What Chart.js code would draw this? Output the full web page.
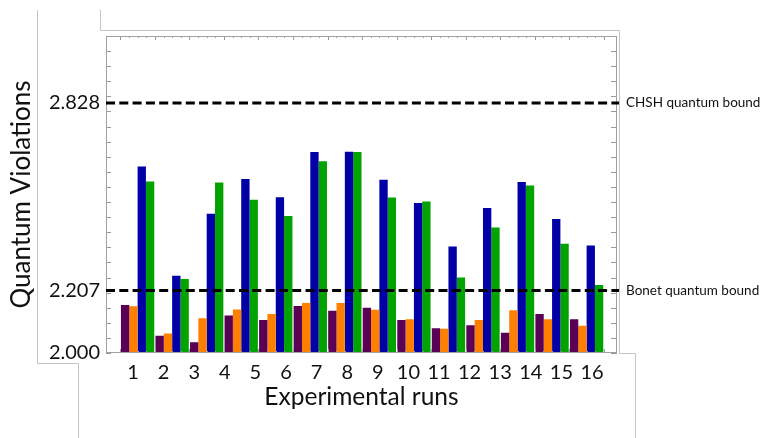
<!DOCTYPE html>
<html><head><meta charset="utf-8">
<script src="https://cdn.jsdelivr.net/npm/chart.js@4/dist/chart.umd.min.js"></script>
<style>html,body{margin:0;padding:0;background:#fff}#wrap{width:764px;height:438px;position:relative}</style>
</head><body><div id="wrap"><canvas id="c" width="764" height="438"></canvas></div>
<script>
// Bar groups as drawn (14 groups of four bars)
const barGroups = [1,2,3,4,5,6,7,8,9,10,11,12,13,14];
// Run labels printed under the axis
const xTickLabels = ['1','2','3','4','5','6','7','8','9','10','11','12','13','14','15','16'];
const purpleSeries = [2.159,2.057,2.036,2.124,2.109,2.156,2.140,2.150,2.109,2.082,2.092,2.067,2.129,2.112];
const orangeSeries = [2.155,2.065,2.115,2.144,2.129,2.166,2.166,2.143,2.112,2.080,2.109,2.142,2.112,2.090];
const blueSeries   = [2.618,2.256,2.461,2.576,2.516,2.666,2.667,2.574,2.497,2.353,2.480,2.566,2.444,2.356];
const greenSeries  = [2.568,2.245,2.565,2.508,2.454,2.635,2.666,2.515,2.502,2.250,2.416,2.555,2.362,2.225];
const yTickLabels = ['2.000','2.207','2.828'];
const yMinorStep = 0.05;
const boundValues = [2.828, 2.207];
const boundLabels = ['CHSH quantum bound', 'Bonet quantum bound'];

const FONT = 'Lato, "Open Sans", sans-serif';
const colors = ['#5a0055', '#ff8000', '#0000a6', '#00a300'];
const seriesList = [purpleSeries, orangeSeries, blueSeries, greenSeries];

const decor = {
  id: 'decor',
  afterDatasetsDraw(chart) {
    const {ctx, chartArea: a, scales: {x, y}} = chart;
    const line = (x1, y1, x2, y2) => { ctx.beginPath(); ctx.moveTo(x1, y1); ctx.lineTo(x2, y2); ctx.stroke(); };
    ctx.save();
    // inward tick marks
    ctx.strokeStyle = '#9a9a9a'; ctx.lineWidth = 1;
    const n = Math.round((y.max - y.min) / yMinorStep);
    for (let k = 0; k <= n; k++) {
      const py = Math.round(y.getPixelForValue(y.min + k * yMinorStep)) + 0.5;
      line(a.left, py, a.left + 5, py);
      line(a.right - 6, py, a.right, py);
    }
    for (let k = 0; k <= barGroups.length * 4; k++) {
      const px = Math.round(x.getPixelForValue(barGroups[0] - 0.5 + k * 0.25)) + 0.5;
      const len = (k % 4 === 0) ? 4 : 2;
      line(px, a.top, px, a.top + len);
      line(px, a.bottom, px, a.bottom - len);
    }
    // frame
    ctx.strokeStyle = '#a0a0a0';
    ctx.strokeRect(a.left + 0.5, a.top + 0.5, a.right - a.left - 1, a.bottom - a.top - 1);
    // bound lines
    ctx.strokeStyle = '#000'; ctx.lineWidth = 3; ctx.setLineDash([9, 4.3]);
    ctx.fillStyle = '#111'; ctx.font = '13.5px ' + FONT; ctx.textBaseline = 'middle'; ctx.textAlign = 'left';
    boundValues.forEach((v, i) => {
      const py = y.getPixelForValue(v);
      line(a.left, py, a.right + 2, py);
      ctx.fillText(boundLabels[i], a.right + 9, py);
    });
    ctx.restore();
  },
  afterDraw(chart) {
    const ctx = chart.ctx;
    ctx.save();
    ctx.strokeStyle = '#c4c4c4'; ctx.lineWidth = 1;
    ctx.beginPath();
    ctx.moveTo(37.5, 10); ctx.lineTo(37.5, 363.5); ctx.lineTo(78.5, 363.5); ctx.lineTo(78.5, 438);
    ctx.moveTo(100.5, 10); ctx.lineTo(100.5, 30.5); ctx.lineTo(619.5, 30.5); ctx.lineTo(619.5, 353.5); ctx.lineTo(635.5, 353.5); ctx.lineTo(635.5, 438);
    ctx.stroke();
    ctx.restore();
  }
};

new Chart(document.getElementById('c'), {
  type: 'bar',
  data: {
    datasets: seriesList.map((s, i) => ({
      data: s.map((v, j) => ({x: barGroups[j], y: v})),
      backgroundColor: colors[i],
      borderWidth: 0,
      categoryPercentage: 0.965,
      barPercentage: 1.0,
      xAxisID: 'x', yAxisID: 'y'
    }))
  },
  options: {
    responsive: false, animation: false, devicePixelRatio: 1,
    layout: {padding: {left: 0, top: 36, right: 147, bottom: 0}},
    plugins: {legend: {display: false}, tooltip: {enabled: false}},
    scales: {
      x: {type: 'linear', display: false, min: 0.085, max: 14.88, offset: false},
      x2: {
        type: 'linear', position: 'bottom', min: 0.118, max: 16.817, offset: false,
        grid: {display: false, drawTicks: false, offset: false}, border: {display: false},
        afterBuildTicks: s => { s.ticks = xTickLabels.map((_, i) => ({value: i + 1})); },
        afterFit: s => { s.height = 85; },
        ticks: {autoSkip: false, maxRotation: 0, padding: 8, color: '#111', font: {family: FONT, size: 20},
          callback: (v, i) => xTickLabels[i]},
        title: {display: true, text: 'Experimental runs', color: '#111', font: {family: FONT, size: 24.5}, padding: {top: 0, bottom: 26}}
      },
      y: {
        type: 'linear', min: 2.0, max: 3.05,
        grid: {display: false, drawTicks: false}, border: {display: false},
        afterBuildTicks: s => { s.ticks = yTickLabels.map(t => ({value: parseFloat(t)})); },
        afterFit: s => { s.width = 106; },
        ticks: {autoSkip: false, padding: 6, color: '#111', font: {family: FONT, size: 20},
          callback: (v, i) => yTickLabels[i]},
        title: {display: true, text: 'Quantum Violations', color: '#111', font: {family: FONT, size: 26}, padding: {top: 6, bottom: 0}}
      }
    }
  },
  plugins: [decor]
});
</script></body></html>
